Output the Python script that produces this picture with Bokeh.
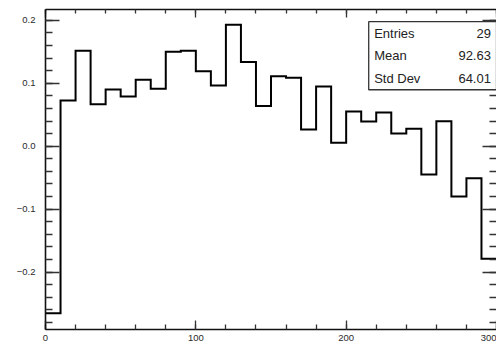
from bokeh.plotting import figure
from bokeh.models import (Range1d, LinearAxis, SingleIntervalTicker, BoxAnnotation,
                          Label, CustomJSTickFormatter, ColumnDataSource)
from bokeh.embed import file_html
from bokeh.resources import INLINE

# ---- data ----
bin_edges = [0, 10, 20, 30, 40, 50, 60, 70, 80, 90, 100, 110, 120, 130, 140, 150,
             160, 170, 180, 190, 200, 210, 220, 230, 240, 250, 260, 270, 280, 290, 300]
bin_values = [-0.2655, 0.0727, 0.1517, 0.0668, 0.0901, 0.0790, 0.1056, 0.0913, 0.1500, 0.1517,
              0.1190, 0.0965, 0.1930, 0.1340, 0.0640, 0.1110, 0.1090, 0.0265, 0.0950, 0.0054,
              0.0552, 0.0393, 0.0536, 0.0202, 0.0276, -0.0450, 0.0398, -0.0800, -0.0509, -0.1790]
stat_names = ["Entries", "Mean", "Std Dev"]
stat_values = ["29", "92.63", "64.01"]

FONT = "Liberation Sans"

p = figure(width=496, height=343, output_backend="svg", toolbar_location=None,
           x_range=Range1d(0, 300), y_range=Range1d(-0.2914, 0.2173),
           x_axis_location=None, y_axis_location=None,
           min_border_left=45, min_border_right=0, min_border_top=9, min_border_bottom=14)
p.grid.visible = False
p.outline_line_color = None
p.background_fill_color = "white"
p.border_fill_color = "white"

# step outline of the histogram
src = ColumnDataSource(dict(x=bin_edges, y=bin_values + [bin_values[-1]]))
p.step(x="x", y="y", source=src, mode="after", line_color="black", line_width=2,
       line_join="miter")

tick_col = "#333333"
yfmt = CustomJSTickFormatter(code="""
    if (Math.abs(tick) < 1e-9) { return '0.0'; }
    return tick.toFixed(1).replace('-', '\u2212');
""")


def style(ax, major_in, minor_in, labels=True, line=True):
    if line:
        ax.axis_line_color = "#111111"
        ax.axis_line_width = 1.6
    else:
        ax.axis_line_color = None
    ax.major_tick_in = major_in
    ax.major_tick_out = 0
    ax.minor_tick_in = minor_in
    ax.minor_tick_out = 0
    ax.major_tick_line_color = tick_col
    ax.minor_tick_line_color = tick_col
    ax.major_tick_line_width = 1.3
    ax.minor_tick_line_width = 1.3
    if labels:
        ax.major_label_text_font = FONT
        ax.major_label_text_font_size = "9.5px"
        ax.major_label_text_color = "#2a2a2a"
    else:
        ax.major_label_text_font_size = "0px"
        ax.major_label_text_color = None


bottom = LinearAxis(ticker=SingleIntervalTicker(interval=100, num_minor_ticks=5))
style(bottom, 9, 5)
bottom.major_label_standoff = 5
top = LinearAxis(ticker=SingleIntervalTicker(interval=100, num_minor_ticks=5))
style(top, 8, 4, labels=False)
left = LinearAxis(ticker=SingleIntervalTicker(interval=0.1, num_minor_ticks=5), formatter=yfmt)
style(left, 14, 7)
left.major_label_standoff = 10
right = LinearAxis(ticker=SingleIntervalTicker(interval=0.1, num_minor_ticks=5))
style(right, 14, 7, labels=False, line=False)

p.add_layout(bottom, "below")
p.add_layout(top, "above")
p.add_layout(left, "left")
p.add_layout(right, "right")

# stats box
box = BoxAnnotation(left=215, right=300, bottom=0.0897, top=0.198,
                    fill_color="white", fill_alpha=1.0,
                    line_color="#333333", line_width=1.3, line_alpha=1.0)
p.add_layout(box)
row_y = [0.179, 0.144, 0.1076]
for name, val, yy in zip(stat_names, stat_values, row_y):
    p.add_layout(Label(x=218.6, y=yy, text=name, text_align="left", text_baseline="middle",
                       text_font=FONT, text_font_size="13px", text_color="#222222"))
    p.add_layout(Label(x=296.3, y=yy, text=val, text_align="right", text_baseline="middle",
                       text_font=FONT, text_font_size="13px", text_color="#222222"))

open("out.html", "w").write(file_html(p, INLINE))
